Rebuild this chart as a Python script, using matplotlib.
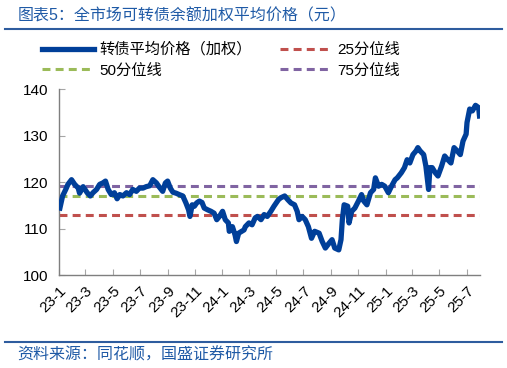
import matplotlib
matplotlib.use("Agg")
from matplotlib import pyplot as plt
from matplotlib.lines import Line2D
import pandas as pd

plt.rcParams['font.family'] = ['Liberation Sans', 'Noto Sans CJK SC']

# 数据
dates = [
    "2023-01-03", "2023-01-09", "2023-01-16", "2023-01-21", "2023-01-29", "2023-02-05",
    "2023-02-13", "2023-02-16", "2023-02-24", "2023-03-05", "2023-03-12", "2023-03-18",
    "2023-03-26", "2023-04-02", "2023-04-09", "2023-04-15", "2023-04-21", "2023-04-28",
    "2023-05-05", "2023-05-11", "2023-05-17", "2023-05-24", "2023-06-01", "2023-06-08",
    "2023-06-15", "2023-06-23", "2023-06-30", "2023-07-08", "2023-07-15", "2023-07-23",
    "2023-07-30", "2023-08-07", "2023-08-12", "2023-08-21", "2023-08-27", "2023-09-01",
    "2023-09-07", "2023-09-13", "2023-09-20", "2023-09-27", "2023-10-05", "2023-10-12",
    "2023-10-18", "2023-10-21", "2023-10-26", "2023-10-31", "2023-11-05", "2023-11-11",
    "2023-11-17", "2023-11-22", "2023-11-30", "2023-12-07", "2023-12-14", "2023-12-20",
    "2023-12-26", "2024-01-02", "2024-01-08", "2024-01-15", "2024-01-17", "2024-01-24",
    "2024-01-30", "2024-02-02", "2024-02-07", "2024-02-19", "2024-02-22", "2024-03-01",
    "2024-03-08", "2024-03-15", "2024-03-20", "2024-03-28", "2024-04-04", "2024-04-11",
    "2024-04-19", "2024-04-26", "2024-05-06", "2024-05-11", "2024-05-20", "2024-05-27",
    "2024-06-03", "2024-06-11", "2024-06-17", "2024-06-21", "2024-06-28", "2024-07-05",
    "2024-07-12", "2024-07-19", "2024-07-26", "2024-08-05", "2024-08-12", "2024-08-19",
    "2024-08-27", "2024-09-03", "2024-09-09", "2024-09-18", "2024-09-23", "2024-09-26",
    "2024-09-30", "2024-10-08", "2024-10-11", "2024-10-17", "2024-10-24", "2024-11-01",
    "2024-11-08", "2024-11-13", "2024-11-20", "2024-11-28", "2024-12-05", "2024-12-09",
    "2024-12-16", "2024-12-23", "2024-12-30", "2025-01-07", "2025-01-14", "2025-01-22",
    "2025-01-27", "2025-02-05", "2025-02-12", "2025-02-18", "2025-02-24", "2025-03-03",
    "2025-03-10", "2025-03-14", "2025-03-19", "2025-03-27", "2025-04-01", "2025-04-07",
    "2025-04-10", "2025-04-15", "2025-04-22", "2025-04-28", "2025-05-06", "2025-05-13",
    "2025-05-20", "2025-05-27", "2025-06-03", "2025-06-10", "2025-06-17", "2025-06-23",
    "2025-06-30", "2025-07-02", "2025-07-08", "2025-07-14", "2025-07-21", "2025-07-28",
    "2025-07-30",
]
price = [
    114.4, 117.0, 118.4, 119.5, 120.5, 119.5,
    118.7, 117.6, 119.0, 117.7, 117.0, 117.7,
    118.4, 119.5, 119.8, 120.2, 118.4, 117.3,
    117.7, 116.4, 117.3, 117.0, 117.7, 117.3,
    118.4, 118.0, 118.7, 118.7, 119.0, 119.2,
    120.5, 119.8, 119.1, 118.0, 119.8, 120.2,
    118.7, 117.8, 117.6, 117.3, 117.0, 115.5,
    114.0, 112.6, 115.1, 114.8, 115.5, 115.9,
    115.6, 114.4, 114.0, 113.7, 113.3, 111.9,
    112.6, 113.7, 111.9, 111.2, 109.4, 110.4,
    108.6, 107.2, 109.0, 109.7, 110.4, 111.2,
    110.8, 112.3, 112.6, 111.9, 113.0, 112.6,
    113.7, 114.8, 116.2, 116.6, 117.0, 116.2,
    115.5, 115.1, 113.7, 111.9, 112.6, 111.9,
    110.4, 107.9, 109.4, 109.0, 107.2, 105.8,
    106.8, 107.6, 105.8, 105.4, 107.6, 111.9,
    115.1, 114.8, 111.2, 113.7, 114.4, 115.9,
    117.3, 115.9, 115.1, 117.7, 118.4, 120.9,
    119.1, 119.5, 119.1, 117.7, 119.1, 120.5,
    120.9, 122.0, 123.1, 124.8, 124.1, 125.9,
    126.7, 127.4, 126.7, 125.9, 123.4, 118.4,
    123.1, 123.1, 122.0, 121.3, 123.4, 125.6,
    124.8, 124.1, 127.4, 126.7, 125.9, 128.8,
    130.3, 132.8, 135.7, 135.3, 136.5, 136.0,
    134.2,
]
q25 = 113.0
q50 = 117.0
q75 = 119.1

x = pd.to_datetime(dates)

fig = plt.figure(figsize=(5.07, 3.68), dpi=100)
ax = fig.add_axes([0.1164, 0.2527, 0.8303, 0.5053])

ax.plot(x, price, color='#003F99', linewidth=3.8, solid_joinstyle='round', zorder=3)
ax.axhline(q25, color='#C0504D', linestyle=(0, (2.6, 1.7)), linewidth=2.2, zorder=2)
ax.axhline(q50, color='#9BBB59', linestyle=(0, (2.6, 1.7)), linewidth=2.2, zorder=2)
ax.axhline(q75, color='#8064A2', linestyle=(0, (2.6, 1.7)), linewidth=2.2, zorder=2)

ax.set_ylim(100, 140)
ax.set_yticks([100, 110, 120, 130, 140])
ax.set_xlim(pd.Timestamp("2023-01-01"), pd.Timestamp("2025-07-31"))
ticks = pd.date_range("2023-01-01", "2025-07-01", freq="2MS")
ax.set_xticks(ticks)
ax.set_xticklabels([f"{d.year % 100}-{d.month}" for d in ticks],
                   rotation=45, ha='right', rotation_mode='anchor')

for s in ['top', 'right']:
    ax.spines[s].set_visible(False)
for s in ['left', 'bottom']:
    ax.spines[s].set_color('#7F7F7F')
    ax.spines[s].set_linewidth(1.0)
ax.tick_params(direction='in', length=4, color='#A6A6A6', labelsize=11, labelcolor='black')
ax.tick_params(axis='y', pad=8)
ax.tick_params(axis='x', pad=6)

# 图例
handles = [
    Line2D([], [], color='#003F99', linewidth=3.8),
    Line2D([], [], color='#9BBB59', linestyle=(0, (2.6, 1.7)), linewidth=2.2),
    Line2D([], [], color='#C0504D', linestyle=(0, (2.6, 1.7)), linewidth=2.2),
    Line2D([], [], color='#8064A2', linestyle=(0, (2.6, 1.7)), linewidth=2.2),
]
labels = ['转债平均价格（加权）', '50分位线', '25分位线', '75分位线']
fig.legend(handles, labels, ncol=2, frameon=False, fontsize=11,
           loc='upper left', bbox_to_anchor=(0.07, 0.9015),
           handlelength=3.4, handletextpad=0.35, columnspacing=1.9,
           labelspacing=0.42, borderaxespad=0)

# 标题和来源
fig.text(0.034, 0.958, '图表5：全市场可转债余额加权平均价格（元）', fontsize=11.5,
         color='#1F5AA6', ha='left', va='center')
fig.add_artist(Line2D([0.01, 0.99], [0.921, 0.921], color='#2E5C9E', linewidth=1.5))
fig.add_artist(Line2D([0.01, 0.99], [0.07, 0.07], color='#2E5C9E', linewidth=1.5))
fig.text(0.034, 0.035, '资料来源：同花顺，国盛证券研究所', fontsize=11.5,
         color='#1F5AA6', ha='left', va='center')

fig.savefig('out.png', dpi=100)
